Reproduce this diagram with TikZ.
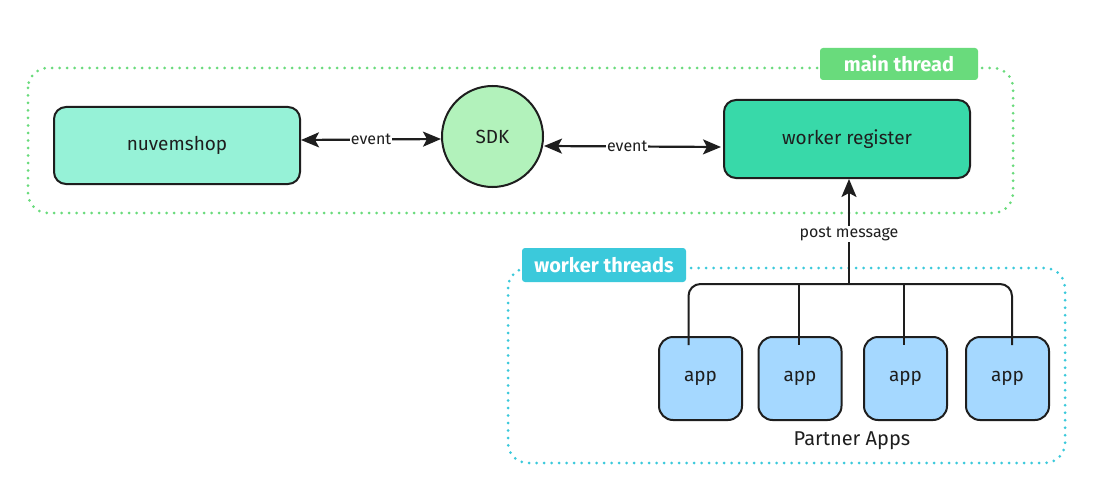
\documentclass[tikz,border=0pt]{standalone}
\usepackage{fontspec}
\setmainfont{Fira Sans}
\usetikzlibrary{arrows.meta}
\definecolor{ink}{HTML}{1E1E1E}
\definecolor{mainG}{HTML}{69DB7C}
\definecolor{workC}{HTML}{3BC9DB}
\definecolor{nuvem}{HTML}{96F2D7}
\definecolor{sdkG}{HTML}{B2F2BB}
\definecolor{regG}{HTML}{38D9A9}
\definecolor{appB}{HTML}{A5D8FF}
\tikzset{
  box/.style={draw=ink, line width=2pt, rounded corners=12pt, inner sep=0pt, font=\fontsize{19}{21}\selectfont, text=ink},
  appbox/.style={box, fill=appB, minimum width=83pt, minimum height=83pt, rounded corners=14pt},
  dotframe/.style={line width=3pt, line cap=round, dash pattern=on 0pt off 7.5pt, rounded corners=20pt},
  tag/.style={rounded corners=3pt, text=white, inner sep=0pt, font=\fontsize{20}{22}\selectfont\bfseries},
  conn/.style={draw=ink, line width=2.2pt, -{Stealth[length=18pt,width=15pt,inset=4pt]}},
  biconn/.style={draw=ink, line width=2.2pt, {Stealth[length=18pt,width=15pt,inset=4pt]}-{Stealth[length=18pt,width=15pt,inset=4pt]}},
  lbl/.style={fill=white, inner sep=1pt, text=ink, font=\fontsize{16}{18}\selectfont},
  branch/.style={draw=ink, line width=2pt, rounded corners=12pt},
}
\begin{document}
\begin{tikzpicture}[x=1pt,y=-1pt]
\useasboundingbox[fill=white] (0,0) rectangle (1100,492);
% frames
\draw[dotframe, draw=mainG] (28,68) rectangle (1013,213);
\draw[dotframe, draw=workC] (508,268) rectangle (1065,463);
% tags
\node[tag, fill=mainG, minimum width=158pt, minimum height=32pt] (maintag) at (899,64) {main thread};
\node[tag, fill=workC, minimum width=164pt, minimum height=34pt] (worktag) at (604,265) {worker threads};
% main nodes
\node[box, fill=nuvem, minimum width=246pt, minimum height=77pt] (nuvem) at (177,145.5) {nuvemshop};
\node[box, fill=sdkG, circle, minimum size=101pt] (sdk) at (492.5,136.5) {SDK};
\node[box, fill=regG, minimum width=246pt, minimum height=78pt] (reg) at (847,139) {worker register};
% apps
\node[appbox] (app1) at (700.5,378.5) {app};
\node[appbox] (app2) at (800,378.5) {app};
\node[appbox] (app3) at (905.5,378.5) {app};
\node[appbox] (app4) at (1007.5,378.5) {app};
\node[text=ink, font=\fontsize{20}{22}\selectfont] (partner) at (852,441) {Partner Apps};
% connectors
\draw[biconn] (nuvem.east |- 0,140) -- (sdk.west |- 0,139) node[lbl, midway] (ev1) {event};
\draw[biconn] (sdk.east |- 0,146) -- ([xshift=-2pt]reg.west |- 0,147) node[lbl, pos=0.47] (ev2) {event};
\coordinate (hub) at (849,284);
\draw[conn] (hub) -- (hub |- reg.south) node[lbl, pos=0.48] (post) {post message};
\coordinate (t1) at ([xshift=-12pt,yshift=-9pt]app1.north);
\coordinate (t2) at ([xshift=-1pt,yshift=-9pt]app2.north);
\coordinate (t3) at ([xshift=-1.5pt,yshift=-9pt]app3.north);
\coordinate (t4) at ([xshift=4.5pt,yshift=-9pt]app4.north);
\draw[branch] (t1) |- (hub) -| (t4);
\draw[branch] (hub -| t2) -- (t2);
\draw[branch] (hub -| t3) -- (t3);
\end{tikzpicture}
\end{document}
